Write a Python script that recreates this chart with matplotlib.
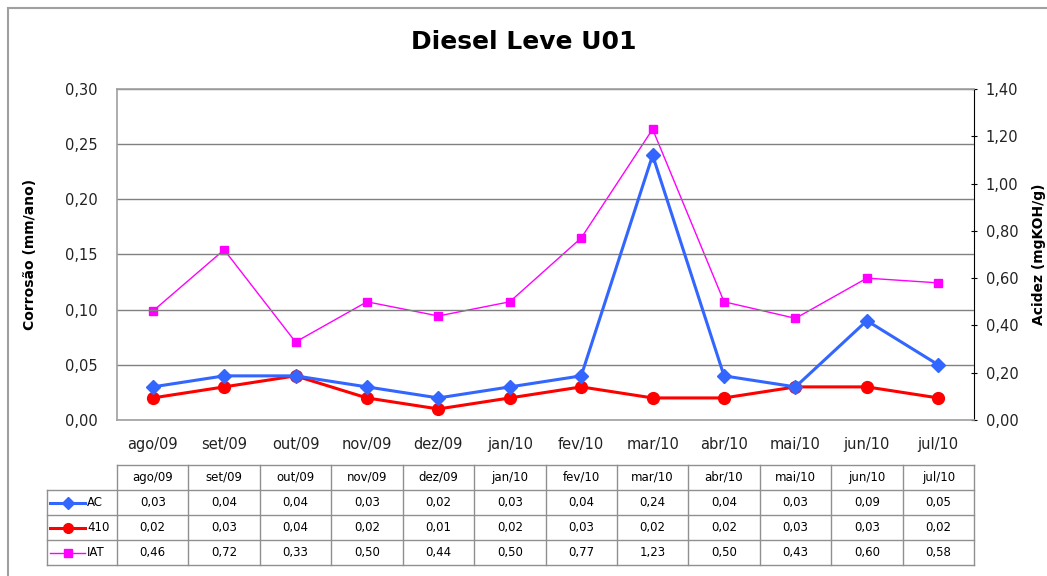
import matplotlib
matplotlib.use("Agg")
import matplotlib.pyplot as plt
from matplotlib.lines import Line2D
from matplotlib.patches import Rectangle
import numpy as np

categories = ["ago/09", "set/09", "out/09", "nov/09", "dez/09", "jan/10",
              "fev/10", "mar/10", "abr/10", "mai/10", "jun/10", "jul/10"]
ac = [0.03, 0.04, 0.04, 0.03, 0.02, 0.03, 0.04, 0.24, 0.04, 0.03, 0.09, 0.05]
s410 = [0.02, 0.03, 0.04, 0.02, 0.01, 0.02, 0.03, 0.02, 0.02, 0.03, 0.03, 0.02]
iat = [0.46, 0.72, 0.33, 0.50, 0.44, 0.50, 0.77, 1.23, 0.50, 0.43, 0.60, 0.58]
left_ticks = [0.00, 0.05, 0.10, 0.15, 0.20, 0.25, 0.30]
right_ticks = [0.0, 0.2, 0.4, 0.6, 0.8, 1.0, 1.2, 1.4]

plt.rcParams['font.family'] = ['DejaVu Sans']

W, H = 1047, 576
fig = plt.figure(figsize=(W / 100, H / 100), dpi=100)

# outer chart border
fig.add_artist(Rectangle((8 / W, -0.1), 1.2, 1 - 8 / H + 0.1, transform=fig.transFigure,
                         fill=False, edgecolor='#a0a0a0', linewidth=1.5))

L, R, T, B = 117, 974, 89, 420
ax = fig.add_axes([L / W, 1 - B / H, (R - L) / W, (B - T) / H])
x = np.arange(len(categories))

fmt = lambda v, d=2: f"{v:.{d}f}".replace('.', ',')

ax.set_xlim(-0.5, len(categories) - 0.5)
ax.set_ylim(0, 0.30)
ax.set_yticks(left_ticks)
ax.set_yticklabels([fmt(v) for v in left_ticks], fontsize=10.5, color='#222222')
ax.tick_params(axis='y', length=0, pad=14)
ax.set_xticks(x)
ax.set_xticklabels(categories, fontsize=10.5, color='#222222')
ax.tick_params(axis='x', length=0, pad=12)
ax.grid(axis='y', color='#808080', linewidth=1)
ax.set_axisbelow(True)
for s in ['left', 'top', 'bottom']:
    ax.spines[s].set_color('#a0a0a0')
    ax.spines[s].set_linewidth(1.2)
ax.spines['right'].set_visible(False)
ax.set_ylabel("Corrosão (mm/ano)", fontsize=10, fontweight='bold', labelpad=20)

ax2 = ax.twinx()
ax2.set_ylim(0, 1.40)
ax2.set_yticks(right_ticks)
ax2.set_yticklabels([fmt(v) for v in right_ticks], fontsize=10.5, color='#222222')
ax2.tick_params(axis='y', length=5, direction='inout', pad=6, color='black')
for s in ['left', 'top', 'bottom']:
    ax2.spines[s].set_visible(False)
ax2.spines['right'].set_color('black')
ax2.set_ylabel("Acidez (mgKOH/g)", fontsize=10, fontweight='bold', labelpad=10)

c_ac, c_410, c_iat = '#3366FF', '#FF0000', '#FF00FF'
ax2.plot(x, iat, color=c_iat, linewidth=1, marker='s', markersize=6, zorder=3)
ax.plot(x, s410, color=c_410, linewidth=2.2, marker='o', markersize=8.5, zorder=4)
ax.plot(x, ac, color=c_ac, linewidth=2.2, marker='D', markersize=7, zorder=5)
ax.set_zorder(ax2.get_zorder() + 1)
ax.patch.set_visible(False)

fig.text(0.5, 1 - 42 / H, "Diesel Leve U01", ha='center', va='center',
         fontsize=18, fontweight='bold')

# data table below the plot
def fx(px):
    return px / W

def fy(py):
    return 1 - py / H

tbl_top, row_h = 465, 25
cw = (R - L) / len(categories)
lab_left = 47
lc = '#909090'
rows = [("AC", ac, c_ac, 'D', 6), ("410", s410, c_410, 'o', 7), ("IAT", iat, c_iat, 's', 6)]

# header
y0, y1 = tbl_top, tbl_top + row_h
fig.add_artist(Line2D([fx(L), fx(R)], [fy(y0), fy(y0)], color=lc, lw=1))
for i, c in enumerate(categories):
    fig.text(fx(L + cw * (i + 0.5)), fy((y0 + y1) / 2), c, ha='center', va='center', fontsize=8.5)
for r, (name, vals, col, mk, ms) in enumerate(rows):
    ya, yb = tbl_top + row_h * (r + 1), tbl_top + row_h * (r + 2)
    fig.add_artist(Line2D([fx(lab_left), fx(R)], [fy(ya), fy(ya)], color=lc, lw=1))
    ym = fy((ya + yb) / 2)
    fig.add_artist(Line2D([fx(lab_left + 3), fx(lab_left + 38)], [ym, ym], color=col,
                          lw=2.2 if name != "IAT" else 1, marker=None))
    fig.add_artist(Line2D([fx(lab_left + 20.5)], [ym], color=col, marker=mk, markersize=ms,
                          linestyle='none'))
    fig.text(fx(lab_left + 40), ym, name, ha='left', va='center', fontsize=8.5)
    for i, v in enumerate(vals):
        fig.text(fx(L + cw * (i + 0.5)), ym, fmt(v), ha='center', va='center', fontsize=8.5)
yend = tbl_top + row_h * 4
fig.add_artist(Line2D([fx(lab_left), fx(R)], [fy(yend), fy(yend)], color=lc, lw=1))
fig.add_artist(Line2D([fx(lab_left), fx(lab_left)], [fy(tbl_top + row_h), fy(yend)], color=lc, lw=1))
for i in range(len(categories) + 1):
    xp = L + cw * i
    fig.add_artist(Line2D([fx(xp), fx(xp)], [fy(tbl_top), fy(yend)], color=lc, lw=1))

fig.savefig("out.png", dpi=100)
